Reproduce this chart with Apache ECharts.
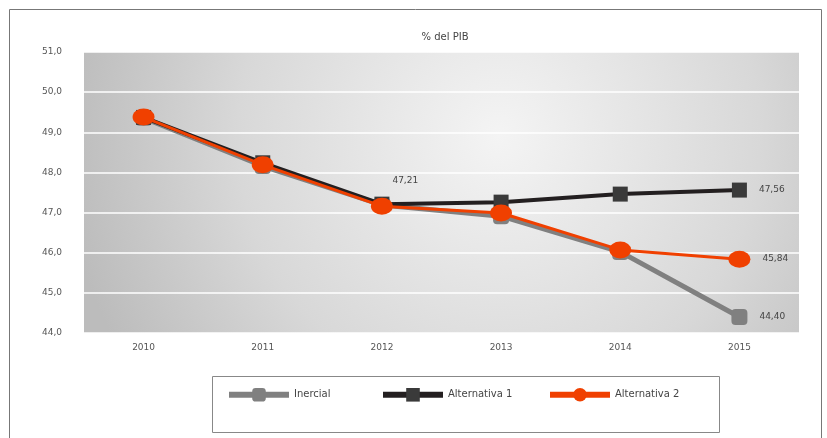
<!DOCTYPE html>
<html>
<head>
<meta charset="utf-8">
<script src="https://cdn.jsdelivr.net/npm/echarts@6/dist/echarts.min.js"></script>
<style>
    html, body { margin: 0; padding: 0; background: #fff; }
    #chart { width: 827px; height: 438px; }
</style>
</head>
<body>
<div id="chart"></div>
<script>
// datos
var years = ['2010', '2011', '2012', '2013', '2014', '2015'];
var inercial = [49.36, 48.16, 47.19, 46.91, 46.02, 44.40];
var alternativa1 = [49.37, 48.24, 47.21, 47.26, 47.46, 47.56];
var alternativa2 = [49.38, 48.19, 47.16, 46.99, 46.07, 45.84];
var seriesNames = ['Inercial', 'Alternativa 1', 'Alternativa 2'];
// puntos con etiqueta (índices)
var labelIdxInercial = [5];
var labelIdxAlt1 = [2, 5];
var labelIdxAlt2 = [5];

function fmt(v) {
    return v.toFixed(2).replace('.', ',');
}

function withLabels(data, idx, pos) {
    return data.map(function (v, i) {
        if (idx.indexOf(i) < 0) {
            return v;
        }
        return {
            value: v,
            label: {
                show: true,
                position: pos,
                distance: 12,
                formatter: function (p) { return fmt(p.value); }
            }
        };
    });
}

// una leyenda por serie, dentro de un marco común
var legendLeft = [226, 380, 547];
var legends = seriesNames.map(function (name, i) {
    return {
        data: [name],
        left: legendLeft[i],
        top: 388,
        padding: 0,
        itemWidth: 60,
        itemHeight: 17,
        lineStyle: {width: 6},
        textStyle: {
            fontSize: 10,
            fontFamily: 'DejaVu Sans',
            color: '#444'
        }
    };
});

var myChart = echarts.init(document.getElementById('chart'));
myChart.setOption({
    animation: false,
    title: {
        text: '% del PIB',
        left: 440,
        textAlign: 'center',
        top: 27,
        textStyle: {
            fontSize: 10,
            fontWeight: 'normal',
            fontFamily: 'DejaVu Sans',
            color: '#444'
        }
    },
    graphic: [{
        type: 'rect',
        shape: {x: 9.5, y: 9.5, width: 812, height: 440},
        style: {fill: 'none', stroke: '#777', lineWidth: 1},
        silent: true
    }, {
        type: 'rect',
        shape: {x: 212.5, y: 376.5, width: 507, height: 56},
        style: {fill: 'none', stroke: '#888', lineWidth: 1},
        silent: true
    }],
    legend: legends,
    grid: {
        left: 84,
        right: 28,
        top: 52,
        bottom: 105,
        show: true,
        borderWidth: 0,
        backgroundColor: {
            type: 'radial',
            x: 0.58,
            y: 0.3,
            r: 1.55,
            colorStops: [
                {offset: 0, color: '#f4f4f4'},
                {offset: 0.6, color: '#d8d8d8'},
                {offset: 1, color: '#bcbcbc'}
            ]
        }
    },
    xAxis: {
        type: 'category',
        data: years,
        boundaryGap: true,
        axisLine: {show: false},
        axisTick: {show: false},
        axisLabel: {
            margin: 10,
            fontSize: 9,
            fontFamily: 'DejaVu Sans',
            color: '#555'
        }
    },
    yAxis: {
        type: 'value',
        min: 44,
        max: 51,
        interval: 1,
        axisLine: {show: false},
        axisTick: {show: false},
        axisLabel: {
            margin: 22,
            fontSize: 9,
            fontFamily: 'DejaVu Sans',
            color: '#555',
            formatter: function (v) { return v.toFixed(1).replace('.', ','); }
        },
        splitLine: {
            show: true,
            lineStyle: {color: '#ffffff', width: 1.5}
        }
    },
    series: [
        {
            name: seriesNames[0],
            type: 'line',
            symbol: 'roundRect',
            symbolSize: 16,
            color: '#808080',
            lineStyle: {color: '#808080', width: 5},
            itemStyle: {color: '#808080'},
            label: {fontSize: 9, fontFamily: 'DejaVu Sans', color: '#444'},
            z: 2,
            data: withLabels(inercial, labelIdxInercial, 'right')
        },
        {
            name: seriesNames[1],
            type: 'line',
            symbol: 'rect',
            symbolSize: 15,
            color: '#231f20',
            lineStyle: {color: '#231f20', width: 4},
            itemStyle: {color: '#3a3a3a'},
            label: {fontSize: 9, fontFamily: 'DejaVu Sans', color: '#444'},
            z: 3,
            data: withLabels(alternativa1, labelIdxAlt1, 'right').map(function (d, i) {
                if (i === 2) {
                    d.label.position = [18, -20];
                }
                return d;
            })
        },
        {
            name: seriesNames[2],
            type: 'line',
            symbol: 'circle',
            symbolSize: [22, 17],
            color: '#f04000',
            lineStyle: {color: '#f04000', width: 3},
            itemStyle: {color: '#f04000'},
            label: {fontSize: 9, fontFamily: 'DejaVu Sans', color: '#444'},
            z: 4,
            data: withLabels(alternativa2, labelIdxAlt2, 'right')
        }
    ]
});
</script>
</body>
</html>
